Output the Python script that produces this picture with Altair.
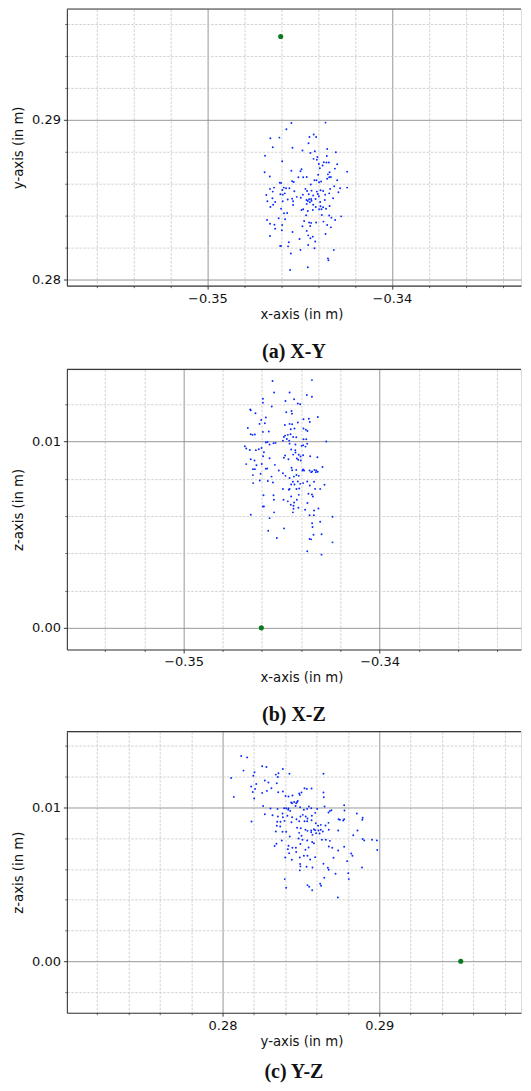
import altair as alt
import pandas as pd

# ---------------- data (in millimetres) ----------------
# (a) X-Y projection
A_X = [-345.45, -343.60, -345.72, -344.24, -344.47, -344.11, -346.59, -346.10, -344.52, -346.46,
       -345.39, -343.51, -344.85, -344.42, -344.18, -343.04, -346.88, -344.04, -343.53, -344.25,
       -344.07, -345.95, -343.69, -343.55, -343.42, -343.96, -342.97, -343.76, -343.09, -343.91,
       -346.90, -345.45, -344.90, -344.96, -342.43, -343.38, -343.47, -346.62, -345.07, -344.81,
       -344.62, -344.00, -343.31, -343.51, -343.40, -344.09, -344.20, -342.97, -346.08, -346.01,
       -345.41, -345.32, -344.40, -343.95, -343.84, -346.39, -345.86, -345.74, -345.56, -343.13,
       -342.81, -342.43, -343.35, -346.61, -346.46, -345.94, -345.29, -344.69, -344.60, -344.36,
       -344.07, -343.87, -343.73, -346.81, -346.05, -345.92, -345.81, -344.83, -344.51, -344.27,
       -344.02, -343.62, -343.40, -342.90, -346.48, -345.65, -345.41, -345.16, -344.94, -344.63,
       -344.49, -344.38, -344.14, -343.96, -343.19, -346.75, -346.33, -345.92, -345.36, -344.56,
       -344.45, -344.36, -343.89, -343.64, -346.44, -346.59, -345.36, -344.62, -344.27, -344.13,
       -343.87, -343.73, -346.01, -344.90, -344.81, -344.56, -344.29, -343.95, -343.82, -343.57,
       -343.38, -345.68, -345.85, -344.65, -343.80, -343.40, -343.28, -343.08, -342.75, -346.77,
       -346.14, -345.79, -344.76, -344.49, -344.38, -344.11, -343.71, -346.61, -346.37, -345.95,
       -344.85, -344.43, -343.51, -343.31, -346.33, -345.97, -344.62, -345.39, -346.61, -344.54,
       -344.29, -344.42, -343.60, -345.01, -344.16, -345.59, -346.01, -346.06, -345.63, -344.54,
       -344.96, -344.20, -343.15, -345.48, -343.47, -343.44, -345.52, -344.56]
A_Y = [289.79, 289.81, 289.39, 289.06, 288.91, 288.91, 288.83, 288.87, 288.52, 288.27,
       288.24, 288.16, 288.06, 287.91, 288.02, 287.95, 287.74, 287.66, 287.72, 287.54,
       287.49, 287.39, 287.33, 287.31, 287.31, 287.22, 287.20, 287.12, 286.93, 286.95,
       286.70, 286.80, 286.89, 286.76, 286.74, 286.70, 286.57, 286.43, 286.39, 286.39,
       286.41, 286.55, 286.41, 286.30, 286.39, 286.20, 286.20, 286.20, 286.05, 286.03,
       286.14, 286.09, 285.93, 286.07, 286.12, 285.74, 285.74, 285.70, 285.70, 285.82,
       285.70, 285.74, 285.66, 285.66, 285.49, 285.59, 285.51, 285.66, 285.53, 285.55,
       285.49, 285.57, 285.53, 285.28, 285.32, 285.30, 285.38, 285.30, 285.32, 285.24,
       285.34, 285.30, 285.38, 285.45, 285.07, 284.99, 285.05, 285.16, 285.11, 284.97,
       285.01, 285.03, 285.03, 285.20, 285.07, 284.88, 284.84, 284.88, 284.88, 284.90,
       284.82, 284.92, 284.84, 284.97, 284.67, 284.53, 284.65, 284.72, 284.67, 284.53,
       284.57, 284.51, 284.42, 284.34, 284.38, 284.28, 284.34, 284.38, 284.38, 284.42,
       284.59, 284.15, 284.13, 284.01, 284.03, 283.99, 283.86, 283.71, 283.94, 283.71,
       283.82, 283.76, 283.65, 283.55, 283.53, 283.55, 283.61, 283.48, 283.42, 283.40,
       283.32, 283.34, 283.40, 283.25, 283.17, 283.07, 283.03, 282.96, 282.71, 282.75,
       282.67, 282.57, 282.84, 282.52, 282.36, 282.32, 282.09, 282.09, 282.06, 282.15,
       281.84, 281.94, 281.84, 281.61, 281.31, 281.19, 280.58, 280.75]

# (b) X-Z projection
B_X = [-345.46, -343.45, -345.38, -344.59, -345.95, -345.95, -344.80, -344.36, -343.71, -343.45,
       -344.17, -344.05, -345.50, -346.60, -346.57, -346.33, -344.76, -344.49, -344.47, -345.80,
       -346.04, -343.15, -343.61, -343.88, -343.56, -346.12, -345.85, -344.83, -344.59, -344.46,
       -344.17, -346.72, -344.53, -344.34, -343.88, -343.76, -343.68, -345.95, -345.65, -346.57,
       -346.48, -346.36, -344.82, -344.68, -344.54, -344.88, -344.41, -344.25, -344.73, -344.93,
       -344.61, -343.88, -343.74, -345.80, -345.72, -345.61, -345.41, -345.31, -344.59, -344.29,
       -343.98, -343.90, -343.78, -343.69, -342.72, -346.87, -346.80, -346.62, -346.31, -346.16,
       -346.02, -345.90, -344.51, -344.30, -344.29, -344.82, -344.41, -344.12, -344.03, -343.90,
       -343.54, -343.17, -346.57, -346.38, -345.94, -345.61, -344.88, -344.65, -344.22, -344.15,
       -344.02, -346.80, -346.28, -346.01, -346.46, -346.36, -345.80, -345.73, -345.34, -345.14,
       -344.93, -344.49, -344.46, -344.25, -343.93, -343.90, -343.85, -343.57, -343.44, -343.32,
       -343.23, -342.91, -346.46, -346.07, -345.51, -344.80, -344.59, -344.37, -344.24, -344.12,
       -343.49, -343.25, -343.15, -345.70, -345.44, -344.42, -344.17, -344.05, -344.51, -344.34,
       -343.90, -343.69, -343.34, -346.45, -346.11, -344.59, -344.24, -344.10, -344.93, -344.63,
       -343.29, -343.03, -342.81, -343.56, -343.63, -343.45, -343.40, -344.51, -344.12, -345.92,
       -345.41, -345.39, -344.90, -344.22, -344.68, -344.53, -344.39, -344.14, -345.95, -345.90,
       -343.68, -343.80, -343.12, -343.34, -343.35, -343.57, -345.38, -346.57, -345.61, -342.40,
       -343.03, -343.44, -343.42, -344.87, -345.68, -343.37, -342.96, -345.24, -343.57, -343.49,
       -342.40, -343.69, -342.96, -344.42, -344.39, -344.36]
B_Z = [13.25, 13.30, 12.64, 12.63, 12.30, 12.09, 12.18, 12.27, 12.50, 12.41,
       12.04, 12.00, 11.88, 11.73, 11.68, 11.52, 11.57, 11.64, 11.50, 11.29,
       11.16, 11.32, 11.23, 11.20, 11.05, 10.95, 10.98, 10.89, 10.95, 10.93,
       11.02, 10.73, 10.66, 10.70, 10.70, 10.64, 10.57, 10.52, 10.54, 10.39,
       10.36, 10.38, 10.32, 10.36, 10.39, 10.25, 10.25, 10.23, 10.14, 10.05,
       10.05, 10.13, 10.13, 9.95, 9.98, 9.84, 9.91, 9.93, 9.89, 9.84,
       9.77, 9.80, 9.73, 9.88, 10.00, 9.75, 9.63, 9.55, 9.54, 9.59,
       9.66, 9.43, 9.57, 9.54, 9.41, 9.25, 9.30, 9.29, 9.20, 9.27,
       9.21, 9.16, 9.05, 8.98, 9.21, 9.11, 9.13, 9.05, 9.09, 9.02,
       8.98, 8.79, 8.73, 8.80, 8.52, 8.52, 8.54, 8.55, 8.75, 8.45,
       8.30, 8.59, 8.46, 8.48, 8.45, 8.50, 8.45, 8.45, 8.39, 8.48,
       8.45, 8.64, 8.20, 8.27, 8.12, 8.16, 8.04, 8.12, 8.21, 8.16,
       8.36, 8.36, 8.38, 7.88, 7.80, 7.84, 7.86, 7.73, 7.70, 7.70,
       7.77, 7.86, 7.84, 7.77, 7.91, 7.45, 7.45, 7.48, 7.45, 7.41,
       7.46, 7.46, 7.68, 7.64, 7.20, 7.16, 7.05, 7.05, 7.14, 7.12,
       7.12, 6.88, 6.88, 6.88, 6.79, 6.61, 6.55, 6.45, 6.52, 6.52,
       6.70, 6.34, 6.41, 6.30, 6.04, 6.05, 6.20, 6.07, 5.89, 5.96,
       5.70, 5.62, 5.41, 5.34, 5.21, 5.00, 5.02, 4.82, 4.77, 4.75,
       4.59, 4.11, 3.93, 6.20, 6.39, 6.73]

# (c) Y-Z projection
C_Y = [281.19, 281.57, 281.34, 280.55, 282.53, 282.80, 283.85, 281.97, 282.04, 283.40,
       283.57, 283.53, 284.27, 286.44, 282.70, 282.93, 282.15, 281.83, 282.08, 281.93,
       280.72, 282.02, 282.53, 282.83, 283.12, 283.46, 283.55, 283.85, 284.02, 284.21,
       284.46, 284.89, 284.93, 285.04, 285.23, 285.38, 285.68, 286.44, 286.46, 284.38,
       284.57, 284.76, 284.80, 284.70, 284.44, 282.59, 283.06, 283.51, 283.93, 284.06,
       284.19, 284.21, 284.32, 284.66, 284.95, 285.51, 285.66, 285.40, 285.19, 285.91,
       286.04, 286.51, 286.76, 286.85, 286.95, 287.76, 287.78, 288.57, 281.85, 282.70,
       283.19, 283.53, 283.83, 283.85, 284.14, 284.44, 284.97, 285.12, 285.31, 285.42,
       285.70, 285.40, 283.49, 283.70, 283.95, 284.40, 284.72, 284.89, 285.23, 285.68,
       285.95, 286.10, 286.27, 286.57, 286.76, 287.40, 287.49, 287.70, 287.76, 283.40,
       283.68, 283.83, 283.46, 284.76, 284.99, 285.29, 285.42, 285.66, 285.83, 285.91,
       286.12, 286.27, 286.40, 286.78, 287.38, 288.61, 284.06, 284.29, 284.89, 285.04,
       284.85, 285.66, 285.74, 285.97, 286.19, 285.10, 285.40, 285.72, 285.83, 283.78,
       283.44, 283.32, 284.21, 284.46, 284.68, 284.97, 285.29, 285.49, 286.34, 286.59,
       286.85, 286.78, 287.00, 287.38, 287.76, 288.34, 288.21, 288.29, 287.95, 288.02,
       288.06, 284.70, 284.42, 284.93, 285.19, 285.42, 285.59, 285.91, 284.00, 284.25,
       284.17, 284.95, 284.97, 285.36, 285.74, 286.44, 286.72, 286.78, 287.08, 287.21,
       284.93, 283.97, 284.06, 285.42, 285.53, 285.72, 286.23, 286.29, 286.49, 287.36,
       288.92, 288.94, 288.94, 289.04, 289.54, 289.85, 289.87, 288.90]
C_Z = [13.35, 13.26, 12.40, 11.92, 12.68, 12.64, 12.51, 12.07, 12.29, 12.14,
       12.23, 11.99, 12.20, 12.20, 11.75, 11.62, 11.53, 11.36, 11.21, 11.01,
       10.69, 10.58, 10.95, 11.08, 11.25, 11.58, 10.99, 11.04, 10.75, 10.71,
       10.78, 10.91, 10.82, 10.97, 11.25, 11.21, 11.23, 10.97, 10.67, 10.32,
       10.36, 10.36, 10.43, 10.28, 10.28, 10.10, 9.93, 9.91, 9.95, 9.95,
       9.85, 9.93, 9.78, 10.10, 10.02, 10.06, 9.95, 9.91, 9.85, 9.65,
       9.91, 10.06, 9.67, 9.78, 9.82, 10.15, 9.80, 9.61, 9.09, 9.56,
       9.50, 9.41, 9.61, 9.37, 9.46, 9.37, 9.41, 9.52, 9.41, 9.28,
       9.46, 9.11, 9.07, 9.07, 9.13, 9.04, 9.24, 9.11, 9.11, 9.17,
       8.98, 8.81, 8.87, 8.83, 9.00, 9.24, 9.20, 9.15, 9.24, 8.44,
       8.76, 8.42, 8.81, 8.68, 8.65, 8.55, 8.48, 8.50, 8.59, 8.52,
       8.50, 8.55, 8.44, 8.55, 8.50, 8.50, 8.42, 8.11, 8.35, 8.16,
       7.98, 8.39, 8.22, 8.33, 8.31, 7.90, 7.85, 7.75, 7.68, 7.85,
       7.64, 7.49, 7.51, 7.38, 7.38, 7.62, 7.25, 7.40, 7.90, 7.90,
       7.83, 7.46, 7.38, 7.20, 7.44, 8.20, 7.01, 6.86, 6.51, 5.73,
       5.34, 7.10, 6.60, 6.75, 6.86, 6.86, 6.62, 6.77, 6.75, 7.03,
       7.29, 6.32, 6.17, 6.14, 6.10, 6.34, 6.08, 5.95, 6.73, 5.69,
       5.91, 5.34, 4.78, 4.95, 4.84, 4.61, 5.04, 4.91, 5.43, 4.15,
       9.20, 9.33, 7.95, 7.86, 7.90, 7.86, 7.23, 6.10]

# reference (target) point, mm
REF_X, REF_Y, REF_Z = -346.03, 295.2, 0.0

# tick values (m)
A_X_MAJOR = [-0.35, -0.34]
A_X_MINOR = [-0.356, -0.354, -0.352, -0.348, -0.346, -0.344, -0.342, -0.338, -0.336, -0.334]
A_Y_MAJOR = [0.28, 0.29]
A_Y_MINOR = [0.282, 0.284, 0.286, 0.288, 0.292, 0.294, 0.296]
B_X_MAJOR = [-0.35, -0.34]
B_X_MINOR = [-0.354, -0.352, -0.348, -0.346, -0.344, -0.342, -0.338, -0.336, -0.334]
B_Z_MAJOR = [0.0, 0.01]
B_Z_MINOR = [0.002, 0.004, 0.006, 0.008, 0.012]
C_Y_MAJOR = [0.28, 0.29]
C_Y_MINOR = [0.272, 0.274, 0.276, 0.278, 0.282, 0.284, 0.286, 0.288, 0.292, 0.294, 0.296, 0.298]
C_Z_MAJOR = [0.0, 0.01]
C_Z_MINOR = [-0.002, 0.002, 0.004, 0.006, 0.008, 0.012, 0.014]

CAPTIONS = ["(a) X-Y", "(b) X-Z", "(c) Y-Z"]

# ---------------- styling ----------------
FONT = "DejaVu Sans"
SERIF = "Liberation Serif"
BLUE = "#0a2bff"
GREEN = "#0a7a1e"
AXIS_C = "#3a3a3a"
TXT = "#111111"
PLOT_W = 455


def to_m(vals):
    return [v / 1000.0 for v in vals]


def panel(u_mm, v_mm, gu, gv, xdom, ydom, xmaj, xmin, ymaj, ymin,
          xtitle, ytitle, caption, h, cap_offset):
    n = min(len(u_mm), len(v_mm))
    pts = pd.DataFrame({"u": to_m(u_mm[:n]), "v": to_m(v_mm[:n])})
    ref = pd.DataFrame({"u": [gu / 1000.0], "v": [gv / 1000.0]})
    xs = alt.Scale(domain=xdom, nice=False, zero=False)
    ys = alt.Scale(domain=ydom, nice=False, zero=False)

    x_major = alt.Axis(orient="bottom", values=xmaj, format=".2f", tickSize=3.5,
                       tickColor=AXIS_C, tickWidth=1, labelFont=FONT, labelFontSize=13,
                       labelColor=TXT, labelPadding=3, grid=True, gridColor="#8c8c8c",
                       gridWidth=0.9, domain=True, domainColor=AXIS_C, domainWidth=1.1,
                       title=xtitle, titleFont=FONT, titleFontSize=13.3,
                       titleFontWeight="normal", titleColor=TXT, titlePadding=2,
                       titleX=235, titleAlign="center")
    y_major = alt.Axis(orient="left", values=ymaj, format=".2f", tickSize=3.5,
                       tickColor=AXIS_C, tickWidth=1, labelFont=FONT, labelFontSize=13,
                       labelColor=TXT, labelPadding=3, grid=True, gridColor="#8c8c8c",
                       gridWidth=0.9, domain=True, domainColor=AXIS_C, domainWidth=1.1,
                       title=ytitle, titleFont=FONT, titleFontSize=13.3,
                       titleFontWeight="normal", titleColor=TXT, titlePadding=6)
    x_minor = alt.Axis(orient="bottom", values=xmin, labels=False, tickSize=2,
                       tickColor=AXIS_C, tickWidth=0.8, grid=True, gridColor="#c6c6c6",
                       gridWidth=0.8, gridDash=[2.5, 1.5], domain=False, title=None)
    y_minor = alt.Axis(orient="left", values=ymin, labels=False, tickSize=2,
                       tickColor=AXIS_C, tickWidth=0.8, grid=True, gridColor="#c6c6c6",
                       gridWidth=0.8, gridDash=[2.5, 1.5], domain=False, title=None)

    minor = alt.Chart(ref).mark_circle(size=1, opacity=0).encode(
        x=alt.X("u:Q", scale=xs, axis=x_minor),
        y=alt.Y("v:Q", scale=ys, axis=y_minor))
    blue = alt.Chart(pts).mark_circle(size=3.8, color=BLUE, opacity=1).encode(
        x=alt.X("u:Q", scale=xs, axis=x_major),
        y=alt.Y("v:Q", scale=ys, axis=y_major))
    green = alt.Chart(ref).mark_circle(size=26, color=GREEN, opacity=1).encode(
        x=alt.X("u:Q", scale=xs, axis=None),
        y=alt.Y("v:Q", scale=ys, axis=None))
    # top frame line of the axes box
    frame_top = alt.Chart(ref).mark_rule(color=AXIS_C, strokeWidth=1.1).encode(
        x=alt.value(0), x2=alt.value(PLOT_W), y=alt.value(0))

    return alt.layer(minor, blue, green, frame_top).resolve_axis(
        x="independent", y="independent"
    ).properties(
        width=PLOT_W, height=h,
        title=alt.TitleParams(caption, orient="bottom", anchor="middle", frame="group",
                              font=SERIF, fontSize=20, fontWeight="bold", color=TXT,
                              offset=cap_offset)
    )


pa = panel(A_X, A_Y, REF_X, REF_Y, [-0.35762, -0.333004], [0.2796, 0.296922],
           A_X_MAJOR, A_X_MINOR, A_Y_MAJOR, A_Y_MINOR,
           "x-axis (in m)", "y-axis (in m)", CAPTIONS[0], 277.15, 22)
pb = panel(B_X, B_Z, REF_X, REF_Z, [-0.35595, -0.332786], [-0.001162, 0.013878],
           B_X_MAJOR, B_X_MINOR, B_Z_MAJOR, B_Z_MINOR,
           "x-axis (in m)", "z-axis (in m)", CAPTIONS[1], 280.7, 21)
pc = panel(C_Y, C_Z, REF_Y, REF_Z, [0.27007, 0.299043], [-0.00335, 0.014935],
           C_Y_MAJOR, C_Y_MINOR, C_Z_MAJOR, C_Z_MINOR,
           "y-axis (in m)", "z-axis (in m)", CAPTIONS[2], 281.6, 15)

chart = alt.vconcat(pa, pb, pc, spacing=4).properties(
    padding={"left": 3, "top": -2, "right": 0, "bottom": 0}
).configure_view(stroke=None).configure(background="white")

chart.save("out.html", embed_options={"renderer": "svg", "actions": False})
